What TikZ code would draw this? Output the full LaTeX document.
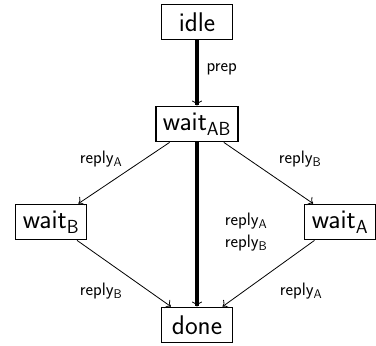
\documentclass[tikz,border=0pt]{standalone}
\usepackage{fontspec}
\usetikzlibrary{arrows.meta}
\begin{document}
\begin{tikzpicture}[x=1pt,y=-1pt,
	state/.style={draw,line width=1.8pt,inner xsep=7pt,minimum width=71pt,minimum height=35pt,font=\sffamily\fontsize{27}{32}\selectfont},
	lab/.style={font=\sffamily\fontsize{18}{22}\selectfont,align=left},
	trans/.style={line width=0.8pt,-{To[length=5pt,width=10pt,line width=0.8pt]}},
	main/.style={line width=3.3pt,-{To[length=5pt,width=10pt,line width=0.8pt]}}]
	\useasboundingbox (0,0) rectangle (376,346);
	% states
	\node[state] (idle) at (197,22) {idle};
	\node[state] (wAB) at (197,124) {wait\textsubscript{AB}};
	\node[state] (wB) at (51,222) {wait\textsubscript{B}};
	\node[state] (wA) at (340,222) {wait\textsubscript{A}};
	\node[state] (done) at (197,325) {done};
	% transitions
	\draw[main] (idle)--(wAB);
	\draw[main] (wAB)--(done);
	\foreach \x/\y in {wAB/wB,wAB/wA,wB/done,wA/done}{
		\draw[trans] (\x)--(\y);
	};
	% labels
	\node[lab,anchor=west] (lprep) at (203,69) {prep};
	\node[lab] (l1) at (101,159) {reply\textsubscript{A}};
	\node[lab] (l2) at (300,159) {reply\textsubscript{B}};
	\node[lab] (l3) at (246,232) {reply\textsubscript{A}\\reply\textsubscript{B}};
	\node[lab] (l4) at (101,291) {reply\textsubscript{B}};
	\node[lab] (l5) at (301,291) {reply\textsubscript{A}};
\end{tikzpicture}
\end{document}
